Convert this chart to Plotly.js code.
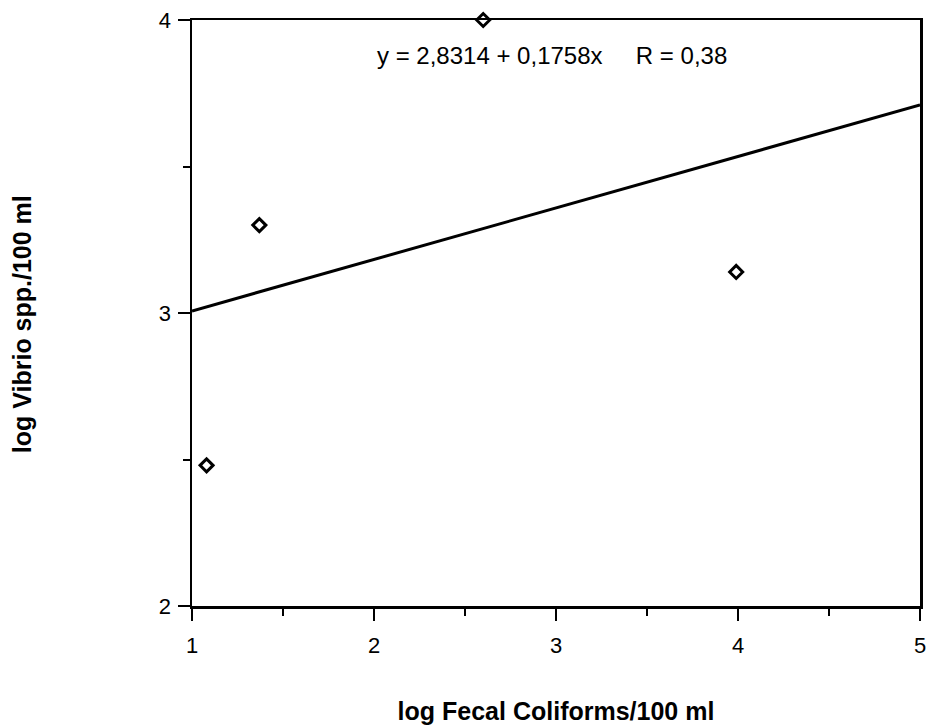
<!DOCTYPE html>
<html>
<head>
<meta charset="utf-8">
<script src="https://cdn.plot.ly/plotly-3.0.1.min.js"></script>
<style>html,body{margin:0;padding:0;background:#fff;}#chart{width:929px;height:727px;}</style>
</head>
<body>
<div id="chart"></div>
<script>
const fecalColiforms = [1.08, 1.37, 2.60, 3.99];
const vibrio = [2.48, 3.30, 4.00, 3.14];
// Regression line end points (y = 2,8314 + 0,1758x)
const fitX = [1, 5];
const fitY = [3.007, 3.710];
const xTicks = [1, 2, 3, 4, 5];
const yTicks = [2, 3, 4];
const equationText = "y = 2,8314 + 0,1758x\u00a0\u00a0\u00a0\u00a0\u00a0R = 0,38";
const xTitle = "log Fecal Coliforms/100 ml";
const yTitle = "log Vibrio spp./100 ml";

const FONT = "Liberation Sans, Arial, Helvetica, sans-serif";

const traces = [
  {
    x: fitX, y: fitY, mode: "lines", type: "scatter",
    line: {color: "#000", width: 3}, hoverinfo: "skip", showlegend: false,
    cliponaxis: false
  },
  {
    x: fecalColiforms, y: vibrio, mode: "markers", type: "scatter",
    marker: {symbol: "diamond-open", size: 10, color: "#000", line: {color: "#000", width: 3}},
    showlegend: false, cliponaxis: false
  }
];

const layout = {
  width: 929, height: 727,
  margin: {l: 192, r: 9, t: 20, b: 121, pad: 0},
  paper_bgcolor: "#fff", plot_bgcolor: "#fff",
  font: {family: FONT, color: "#000", size: 22},
  showlegend: false,
  xaxis: {
    range: [1, 5], tickvals: xTicks, ticktext: xTicks.map(String),
    showline: true, linecolor: "#000", linewidth: 2.5, mirror: true,
    ticks: "outside", ticklen: 12, tickwidth: 2, tickcolor: "#000",
    minor: {tickvals: [1.5, 2.5, 3.5, 4.5], ticks: "outside", ticklen: 7, tickwidth: 2, tickcolor: "#000", showgrid: false},
    showgrid: false, zeroline: false, automargin: false,
    tickfont: {family: FONT, size: 22, color: "#000"},
    ticklabelstandoff: 6,
    title: {text: "<b>" + xTitle + "</b>", font: {family: FONT, size: 25, color: "#000"}, standoff: 46}
  },
  yaxis: {
    range: [2, 4], tickvals: yTicks, ticktext: yTicks.map(String),
    showline: true, linecolor: "#000", linewidth: 2.5, mirror: true,
    ticks: "outside", ticklen: 12, tickwidth: 2, tickcolor: "#000",
    minor: {tickvals: [2.5, 3.5], ticks: "outside", ticklen: 7, tickwidth: 2, tickcolor: "#000", showgrid: false},
    showgrid: false, zeroline: false, automargin: false,
    tickfont: {family: FONT, size: 22, color: "#000"},
    ticklabelstandoff: 2
  },
  annotations: [
    {
      x: 2.98, y: 3.88, xref: "x", yref: "y", text: equationText, showarrow: false,
      font: {family: FONT, size: 24, color: "#000"}, xanchor: "center", yanchor: "middle"
    },
    {
      x: -0.2335, y: 0.481, xref: "paper", yref: "paper", text: "<b>" + yTitle + "</b>", showarrow: false,
      textangle: -90, font: {family: FONT, size: 25, color: "#000"}, xanchor: "center", yanchor: "middle"
    }
  ]
};

Plotly.newPlot("chart", traces, layout, {displayModeBar: false, staticPlot: true});
</script>
</body>
</html>
